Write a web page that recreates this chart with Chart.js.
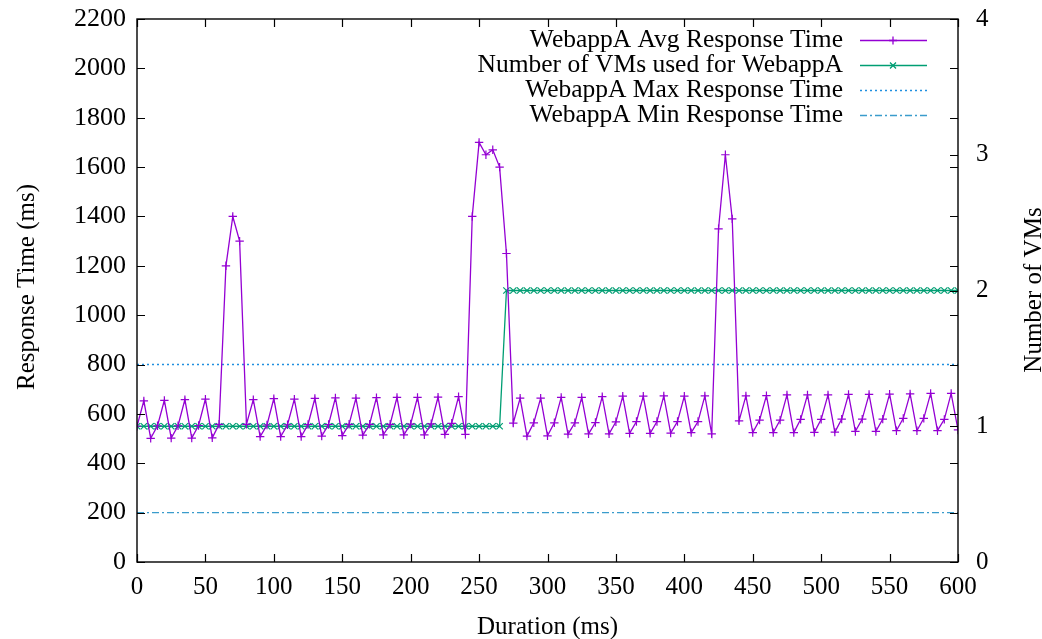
<!DOCTYPE html>
<html>
<head>
<meta charset="utf-8">
<script src="https://cdn.jsdelivr.net/npm/chart.js@4/dist/chart.umd.min.js"></script>
<style>
html,body{margin:0;padding:0;background:#fff;}
#wrap{width:1042px;height:639px;}
</style>
</head>
<body>
<div id="wrap"><canvas id="c" width="1042" height="639"></canvas></div>
<script>
// ---- data ----
const durations = [0,5,10,15,20,25,30,35,40,45,50,55,60,65,70,75,80,85,90,95,100,105,110,115,120,125,130,135,140,145,150,155,160,165,170,175,180,185,190,195,200,205,210,215,220,225,230,235,240,245,250,255,260,265,270,275,280,285,290,295,300,305,310,315,320,325,330,335,340,345,350,355,360,365,370,375,380,385,390,395,400,405,410,415,420,425,430,435,440,445,450,455,460,465,470,475,480,485,490,495,500,505,510,515,520,525,530,535,540,545,550,555,560,565,570,575,580,585,590,595,600];
const avgResponse = [550,653,501,552,655,502,552,658,502,553,660,503,558,1200,1400,1300,558,658,508,555,662,508,556,660,508,557,663,510,557,665,512,558,664,514,558,666,515,558,667,515,559,667,515,560,668,517,562,670,517,1400,1700,1650,1670,1600,1250,563,664,510,564,664,511,564,667,518,564,667,519,565,670,519,568,672,521,569,672,521,569,673,522,569,672,524,569,673,519,1350,1650,1390,572,673,524,575,674,524,575,677,524,578,677,525,578,677,526,579,679,529,579,679,529,579,680,532,582,681,532,582,683,532,578,683,535];
const vmCount = [1,1,1,1,1,1,1,1,1,1,1,1,1,1,1,1,1,1,1,1,1,1,1,1,1,1,1,1,1,1,1,1,1,1,1,1,1,1,1,1,1,1,1,1,1,1,1,1,1,1,1,1,1,1,2,2,2,2,2,2,2,2,2,2,2,2,2,2,2,2,2,2,2,2,2,2,2,2,2,2,2,2,2,2,2,2,2,2,2,2,2,2,2,2,2,2,2,2,2,2,2,2,2,2,2,2,2,2,2,2,2,2,2,2,2,2,2,2,2,2,2];
const maxResponse = 800;
const minResponse = 200;
const xRange = [0, 600];
const yRange = [0, 2200];
const y2Range = [0, 4];
const seriesNames = ["WebappA Avg Response Time","Number of VMs used for WebappA","WebappA Max Response Time","WebappA Min Response Time"];
const xTitle = "Duration (ms)";
const yTitle = "Response Time (ms)";
const y2Title = "Number of VMs";

// ---- styles ----
const FONT = "'Liberation Serif', 'Times New Roman', serif";
const FS = 25;
const C_AVG = '#9400d3';
const C_VM = '#009e73';
const C_MAX = '#1f8fe0';
const C_MIN = '#3a9ccc';

const pts = (xs, ys) => xs.map((x, i) => ({x: x, y: ys[i]}));

const insideTicks = {
  id: 'insideTicks',
  afterDraw(chart) {
    const ctx = chart.ctx, a = chart.chartArea;
    const sx = chart.scales.x, sy = chart.scales.y, sy2 = chart.scales.y2;
    const L = 8;
    ctx.save();
    ctx.strokeStyle = '#000';
    ctx.lineWidth = 1.2;
    ctx.beginPath();
    sx.ticks.forEach(t => {
      const p = Math.round(sx.getPixelForValue(t.value)) + 0.5;
      ctx.moveTo(p, a.bottom); ctx.lineTo(p, a.bottom - L);
      ctx.moveTo(p, a.top); ctx.lineTo(p, a.top + L);
    });
    sy.ticks.forEach(t => {
      const p = Math.round(sy.getPixelForValue(t.value)) + 0.5;
      ctx.moveTo(a.left, p); ctx.lineTo(a.left + L, p);
      ctx.moveTo(a.right, p); ctx.lineTo(a.right - L, p);
    });
    sy2.ticks.forEach(t => {
      const p = Math.round(sy2.getPixelForValue(t.value)) + 0.5;
      ctx.moveTo(a.right, p); ctx.lineTo(a.right - L, p);
    });
    ctx.stroke();
    ctx.lineWidth = 1.4;
    ctx.strokeRect(a.left, a.top, a.right - a.left, a.bottom - a.top);

    // axis titles
    ctx.fillStyle = '#000';
    ctx.font = FS + 'px ' + FONT;
    ctx.textAlign = 'center';
    ctx.textBaseline = 'middle';
    ctx.fillText(xTitle, (a.left + a.right) / 2, 627);
    ctx.save();
    ctx.translate(27, 287);
    ctx.rotate(-Math.PI / 2);
    ctx.fillText(yTitle, 0, 0);
    ctx.restore();
    ctx.save();
    ctx.translate(1034, 290);
    ctx.rotate(-Math.PI / 2);
    ctx.fillText(y2Title, 0, 0);
    ctx.restore();

    // legend (gnuplot style)
    const rows = [40, 65, 90, 115];
    const tx = 843, l0 = 860, l1 = 927, mx = 893;
    ctx.textAlign = 'right';
    ctx.font = '25.5px ' + FONT;
    seriesNames.forEach((n, i) => ctx.fillText(n, tx, rows[i]));
    const ds = chart.data.datasets;
    ds.forEach((d, i) => {
      const y = rows[i] + 0.5;
      ctx.save();
      ctx.strokeStyle = d.borderColor;
      ctx.lineWidth = d.borderWidth;
      ctx.setLineDash(d.borderDash || []);
      ctx.beginPath(); ctx.moveTo(l0, y); ctx.lineTo(l1, y); ctx.stroke();
      ctx.setLineDash([]);
      if (d.pointStyle === 'cross') {
        ctx.beginPath(); ctx.moveTo(mx - 4, y); ctx.lineTo(mx + 4, y); ctx.moveTo(mx, y - 4); ctx.lineTo(mx, y + 4); ctx.stroke();
      } else if (d.pointStyle === 'crossRot') {
        ctx.beginPath(); ctx.moveTo(mx - 3, y - 3); ctx.lineTo(mx + 3, y + 3); ctx.moveTo(mx - 3, y + 3); ctx.lineTo(mx + 3, y - 3); ctx.stroke();
      }
      ctx.restore();
    });
    ctx.restore();
  }
};

function noPad(s) { s.paddingTop = 0; s.paddingBottom = 0; s.paddingLeft = 0; s.paddingRight = 0; }

new Chart(document.getElementById('c'), {
  type: 'line',
  data: {
    datasets: [
      { label: seriesNames[0], data: pts(durations, avgResponse), yAxisID: 'y',
        borderColor: C_AVG, backgroundColor: C_AVG, borderWidth: 1.3,
        pointStyle: 'cross', pointRadius: 4.2, pointBorderWidth: 1.2, tension: 0, order: 1 },
      { label: seriesNames[1], data: pts(durations, vmCount), yAxisID: 'y2',
        borderColor: C_VM, backgroundColor: C_VM, borderWidth: 1.3,
        pointStyle: 'crossRot', pointRadius: 4.5, pointBorderWidth: 1.2, tension: 0, order: 2 },
      { label: seriesNames[2], data: pts(xRange, [maxResponse, maxResponse]), yAxisID: 'y',
        borderColor: C_MAX, backgroundColor: C_MAX, borderWidth: 1.5, borderDash: [2, 3],
        pointRadius: 0, order: 3 },
      { label: seriesNames[3], data: pts(xRange, [minResponse, minResponse]), yAxisID: 'y',
        borderColor: C_MIN, backgroundColor: C_MIN, borderWidth: 1.3, borderDash: [7, 3, 2, 3],
        pointRadius: 0, order: 4 }
    ]
  },
  options: {
    responsive: false,
    animation: false,
    events: [],
    layout: { padding: { top: 19, left: 0, right: 0, bottom: 0 } },
    plugins: { legend: { display: false }, tooltip: { enabled: false } },
    scales: {
      x: {
        type: 'linear', position: 'bottom', min: xRange[0], max: xRange[1],
        ticks: { stepSize: 50, color: '#000', font: { family: FONT, size: FS }, padding: 10, maxRotation: 0,
                 format: { useGrouping: false } },
        grid: { display: false, drawTicks: false },
        border: { display: false },
        afterFit(s) { s.height = 77; noPad(s); }
      },
      y: {
        type: 'linear', position: 'left', min: yRange[0], max: yRange[1],
        ticks: { stepSize: 200, color: '#000', font: { family: FONT, size: 26 }, padding: 11,
                 format: { useGrouping: false } },
        grid: { display: false, drawTicks: false },
        border: { display: false },
        afterFit(s) { s.width = 137; noPad(s); }
      },
      y2: {
        type: 'linear', position: 'right', min: y2Range[0], max: y2Range[1],
        ticks: { stepSize: 1, color: '#000', font: { family: FONT, size: FS }, padding: 18 },
        grid: { display: false, drawTicks: false },
        border: { display: false },
        afterFit(s) { s.width = 84; noPad(s); }
      }
    }
  },
  plugins: [insideTicks]
});
</script>
</body>
</html>
